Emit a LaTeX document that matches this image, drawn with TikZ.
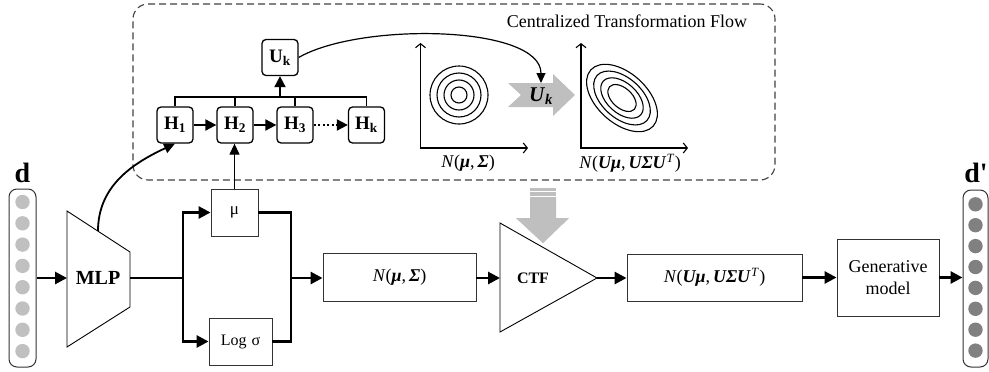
\documentclass[tikz,border=0pt]{standalone}
\usepackage{fontspec}
\setmainfont{Liberation Serif}
\usetikzlibrary{arrows.meta,calc}
\definecolor{lgray}{HTML}{C0C0C0}
\definecolor{dgray}{HTML}{808080}
\definecolor{agray}{HTML}{BFBFBF}
\newcommand{\bi}[1]{\textbf{\textit{#1}}}
\newcommand{\Nmu}{\textit{N}(\bi{μ},\,\bi{Σ})}
\newcommand{\NUmu}{\textit{N}(\bi{Uμ},\,\bi{UΣU}\textsuperscript{\textit{T}})}
\begin{document}
\begin{tikzpicture}[x=1pt,y=1pt,
  dashbox/.style={draw=black!75, line width=1.1pt, dash pattern=on 7pt off 4pt, rounded corners=15pt, inner sep=0pt},
  hbox/.style={draw=black, line width=1.3pt, rounded corners=4pt, minimum width=36pt, minimum height=36pt, inner sep=0pt, font=\fontsize{19}{20}\selectfont\bfseries},
  plainbox/.style={draw=black!80, line width=0.9pt, fill=white, inner sep=0pt},
  mainline/.style={line width=2.8pt},
  mainarrow/.style={line width=2.8pt, -{Triangle[length=12pt,width=12pt]}},
  harrow/.style={line width=2pt, -{Triangle[length=11pt,width=11pt]}},
  thinline/.style={line width=1.2pt},
  axis/.style={line width=1.1pt, {Straight Barb[length=4pt,width=10pt]}-{Straight Barb[length=4pt,width=10pt]}},
  colbox/.style={draw=black!80, line width=1pt, rounded corners=8pt, inner sep=0pt, fill=white},
  mathlbl/.style={font=\fontsize{18}{20}\selectfont, inner sep=1pt}
]
\useasboundingbox (0,0) rectangle (989,-372);

% ---- dashed container
\node[dashbox, minimum width=642pt, minimum height=176pt] (flow) at (454,-92) {};
\node[font=\fontsize{18}{20}\selectfont] (title) at (627,-21) {Centralized Transformation Flow};

% ---- H chain
\node[hbox] (h1) at (175,-125) {H\textsubscript{1}};
\node[hbox] (h2) at (235,-125) {H\textsubscript{2}};
\node[hbox] (h3) at (295,-125) {H\textsubscript{3}};
\node[hbox] (hk) at (366.5,-125) {H\textsubscript{k}};
\node[hbox] (uk) at (280,-57.5) {U\textsubscript{k}};
\coordinate (bus) at (0,-97);
\draw[thinline] (h1.north) -- (h1.north |- bus) -- (hk.north |- bus) -- (hk.north);
\draw[thinline] (h2.north) -- (h2.north |- bus);
\draw[thinline] (h3.north) -- (h3.north |- bus);
\draw[harrow] (uk.south |- bus) -- (uk.south);
\draw[harrow] (h1) -- (h2);
\draw[harrow] (h2) -- (h3);
\draw[harrow, dash pattern=on 2pt off 2.5pt] (h3) -- (hk);

% ---- distributions
\draw[axis] (420.5,-43) -- (420.5,-148) -- (528,-148);
\foreach \r in {29,22,15,8} \draw[line width=1.1pt] (459,-95) circle (\r);
\node[mathlbl] (nlab1) at (468,-163) {\Nmu};

\draw[axis] (581,-43) -- (581,-148) -- (688,-148);
\foreach \s in {1,0.8,0.6,0.4}
  \draw[line width=1.1pt, rotate around={-42:(622,-98)}] (622,-98) ellipse ({42*\s} and {25*\s});
\node[mathlbl] (nlab2) at (630,-163) {\NUmu};

% ---- gray U_k block arrow
\fill[agray] (508,-83) -- (553,-83) -- (553,-74) -- (575,-95) -- (553,-116) -- (553,-107) -- (508,-107) -- (521,-95) -- cycle;
\node[font=\fontsize{21}{22}\selectfont, inner sep=0pt] (ukarrow) at (541,-96) {\bi{U}\textsubscript{\bi{k}}};
\coordinate (ukin) at (541,-83);
\draw[line width=1.2pt, -{Triangle[length=10pt,width=9pt]}] (uk.east) .. controls (360,-22) and (541,-25) .. (ukin);

% ---- gray down arrow
\fill[agray] (530,-188) rectangle (556,-190.5);
\fill[agray] (530,-192) rectangle (556,-195.5);
\fill[agray] (530,-197) -- (556,-197) -- (556,-218) -- (569,-218) -- (543,-243) -- (516,-218) -- (530,-218) -- cycle;

% ---- input column d
\node[colbox, minimum width=27pt, minimum height=178pt] (dcol) at (22.5,-278) {};
\foreach \i in {0,...,7} \fill[lgray] (22.5,{-202-21.3*\i}) circle (7.2);
\node[font=\fontsize{28}{28}\selectfont\bfseries, anchor=base] (dlab) at (22.5,-182) {d};

% ---- output column d'
\node[colbox, minimum width=25pt, minimum height=177pt] (dpcol) at (975.5,-278.5) {};
\foreach \i in {0,...,7} \fill[dgray] (975.5,{-204.3-20.9*\i}) circle (7.2);
\node[font=\fontsize{28}{28}\selectfont\bfseries, anchor=base] (dplab) at (976,-182) {d\textquotesingle};

% ---- MLP
\draw[line width=0.9pt, fill=white] (67,-211) -- (130,-252) -- (130,-307) -- (67,-347) -- cycle;
\node[font=\fontsize{20}{20}\selectfont\bfseries] (mlp) at (98,-278) {MLP};
\coordinate (mlpin) at (67,-278);
\coordinate (mlpout) at (130,-278);
\coordinate (mlptop) at (98,-231);
\draw[mainarrow] (dcol.east |- mlpin) -- (mlpin);
\draw[line width=1.8pt, -{Triangle[length=11pt,width=10pt]}] (mlptop) to[out=90, in=205] (h1.south);

% ---- mu / log sigma branch
\node[plainbox, minimum width=47pt, minimum height=47pt, font=\fontsize{17}{20}\selectfont] (mu) at (234.5,-212.5) {μ};
\node[plainbox, minimum width=63pt, minimum height=47pt, font=\fontsize{16}{20}\selectfont] (ls) at (240.5,-341.5) {Log\hspace{5pt}σ};
\coordinate (split) at (183,-278);
\coordinate (join) at (291,-278);
\draw[mainline] (mlpout) -- (split);
\draw[mainarrow] (split) |- (mu.west);
\draw[mainarrow] (split) |- (ls.west);
\draw[mainline] (mu.east) -| (join);
\draw[mainline] (ls.east) -| (join);
\draw[thinline, -{Triangle[length=11pt,width=10pt]}] (mu.north) -- (mu.north |- h2.south);

% ---- N box
\node[plainbox, minimum width=153pt, minimum height=48pt, mathlbl] (n1) at (399.5,-277) {\Nmu};
\draw[mainarrow] (join) -- (join -| n1.west);

% ---- CTF
\draw[line width=0.9pt, fill=white] (500,-223) -- (597,-278) -- (500,-332) -- cycle;
\node[font=\fontsize{16}{20}\selectfont\bfseries] (ctf) at (533,-278) {CTF};
\coordinate (ctfin) at (500,-278);
\coordinate (ctfout) at (597,-278);
\draw[mainarrow] (n1.east |- ctfin) -- (ctfin);

% redraw gray arrow tip over triangle edge
\fill[agray] (530,-218) -- (556,-218) -- (569,-218) -- (543,-243) -- (516,-218) -- cycle;

% ---- N(U mu, ...) box
\node[plainbox, minimum width=175pt, minimum height=47pt, mathlbl] (n2) at (714.5,-277.5) {\NUmu};
\draw[mainarrow] (ctfout) -- (ctfout -| n2.west);

% ---- Generative model
\node[plainbox, minimum width=102pt, minimum height=77pt, align=center, font=\fontsize{18}{22}\selectfont] (gen) at (888,-277.5) {Generative\\model};
\draw[mainarrow] (n2.east |- gen.west) -- (gen.west);
\draw[mainarrow] (gen.east) -- (gen.east -| dpcol.west);
\end{tikzpicture}
\end{document}
